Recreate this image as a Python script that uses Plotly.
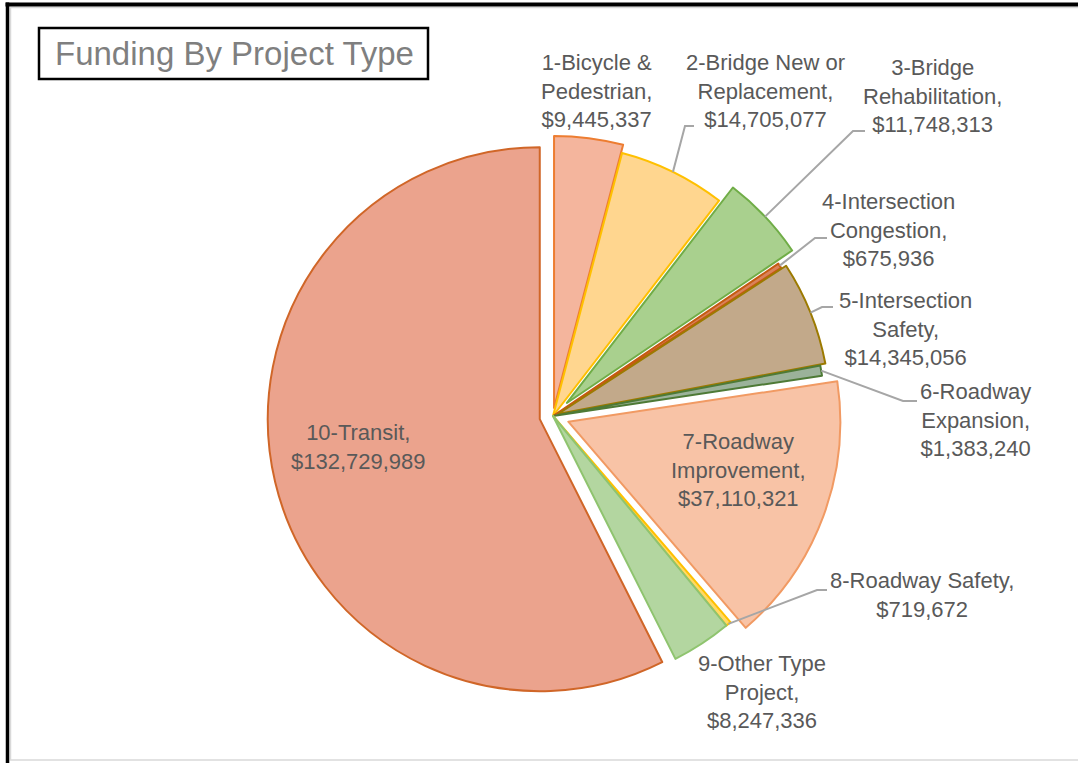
import math
import plotly.graph_objects as go

# ---------------- data ----------------
categories = [
    "1-Bicycle & Pedestrian", "2-Bridge New or Replacement", "3-Bridge Rehabilitation",
    "4-Intersection Congestion", "5-Intersection Safety", "6-Roadway Expansion",
    "7-Roadway Improvement", "8-Roadway Safety", "9-Other Type Project", "10-Transit",
]
values = [9445337, 14705077, 11748313, 675936, 14345056, 1383240,
          37110321, 719672, 8247336, 132729989]
# category names as they are wrapped in the chart's data labels
label_names = [
    "1-Bicycle &<br>Pedestrian,", "2-Bridge New or<br>Replacement,", "3-Bridge<br>Rehabilitation,",
    "4-Intersection<br>Congestion,", "5-Intersection<br>Safety,", "6-Roadway<br>Expansion,",
    "7-Roadway<br>Improvement,", "8-Roadway Safety,", "9-Other Type<br>Project,", "10-Transit,",
]

# ---------------- style ----------------
fill_colors = ["#F4B59D", "#FFD68F", "#A9D08E", "#D9825B", "#C2A98A",
               "#9BB29A", "#F8C3A6", "#FFD966", "#B3D6A0", "#EBA38D"]
line_colors = ["#ED7D31", "#FFC000", "#70AD47", "#C55A11", "#9C7A00",
               "#4E7A36", "#F19A63", "#FFC000", "#8FC46F", "#D06628"]
pulls = [0.03, 0, 0.07, 0, 0.02, 0, 0.06, 0, 0, 0.05]

W, H = 1078, 763
CX, CY, R = 553, 416, 272          # pie centre / radius in pixels


def px(x):
    return x / W


def py(y):
    return 1 - y / H


half = R * (1 + max(pulls))
domain_x = [px(CX - half), px(CX + half)]
domain_y = [py(CY + half), py(CY - half)]

fig = go.Figure(go.Pie(
    labels=categories,
    values=values,
    sort=False,
    direction="clockwise",
    rotation=0,
    pull=pulls,
    textinfo="none",
    hoverinfo="label+value",
    marker=dict(colors=fill_colors, line=dict(color=line_colors, width=2)),
    domain=dict(x=domain_x, y=domain_y),
    showlegend=False,
))

# ---------------- data labels ----------------
label_pos = [(596, 91), (765, 91), (932, 96), (888, 230), (905, 329),
             (975, 420), (738, 470), (922, 595), (762, 692), (358, 447)]
annotations = []
for name, v, (lx, ly) in zip(label_names, values, label_pos):
    annotations.append(dict(
        x=px(lx), y=py(ly), xref="paper", yref="paper",
        text=f"{name}<br>${v:,.0f}", showarrow=False,
        xanchor="center", yanchor="middle", align="center",
        font=dict(family="Liberation Sans, Arial, sans-serif", size=22, color="#595959"),
    ))

annotations.append(dict(
    x=px(234), y=py(54), xref="paper", yref="paper",
    text="Funding By Project Type", showarrow=False,
    xanchor="center", yanchor="middle",
    font=dict(family="Liberation Sans, Arial, sans-serif", size=33, color="#7F7F7F"),
))

# ---------------- leader lines ----------------
total = sum(values)
cum = 0
mid_angles = []
for v in values:
    mid_angles.append((cum + v / 2) / total * 2 * math.pi)
    cum += v

leader_elbows = {
    1: [(685, 126), (694, 126)],
    2: [(853, 131), (865, 131)],
    3: [(815, 238), (827, 238)],
    4: [(822, 307), (833, 307)],
    5: [(903, 401), (917, 401)],
    7: [(817, 590), (827, 590)],
}
shapes = []
for i, pts in leader_elbows.items():
    rr = R * (1 + pulls[i])
    ax = CX + rr * math.sin(mid_angles[i])
    ay = CY - rr * math.cos(mid_angles[i])
    path = f"M {px(ax)} {py(ay)}"
    for (x, y) in pts:
        path += f" L {px(x)} {py(y)}"
    shapes.append(dict(type="path", path=path, xref="paper", yref="paper",
                       line=dict(color="#A6A6A6", width=2)))

# title box
shapes.append(dict(type="rect", xref="paper", yref="paper",
                   x0=px(39), x1=px(428), y0=py(79), y1=py(28),
                   line=dict(color="black", width=2.5)))
# chart frame
shapes.append(dict(type="rect", xref="paper", yref="paper",
                   x0=px(10.5), x1=px(1090), y0=py(760), y1=py(7.5),
                   line=dict(color="#D9D9D9", width=1.5)))
shapes.append(dict(type="line", xref="paper", yref="paper",
                   x0=px(5.5), x1=px(1078), y0=py(4.5), y1=py(4.5),
                   line=dict(color="black", width=4)))
shapes.append(dict(type="line", xref="paper", yref="paper",
                   x0=px(7.5), x1=px(7.5), y0=py(763), y1=py(2.5),
                   line=dict(color="black", width=3.5)))

fig.update_layout(
    width=W, height=H,
    margin=dict(l=0, r=0, t=0, b=0),
    paper_bgcolor="white",
    plot_bgcolor="white",
    annotations=annotations,
    shapes=shapes,
)

fig.write_html("out.html")
